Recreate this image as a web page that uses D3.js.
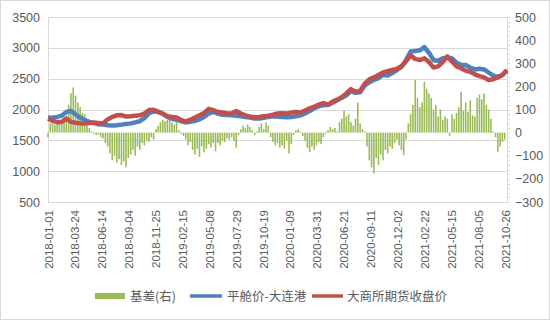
<!DOCTYPE html>
<html>
<head>
<meta charset="utf-8">
<script src="https://cdn.jsdelivr.net/npm/d3@7"></script>
<style>
  body { margin: 0; background: #fff; }
  svg { display: block; font-family: "Liberation Sans", Arial, sans-serif; }
</style>
</head>
<body>
<svg id="chart" width="550" height="320"></svg>
<script>
// x-axis tick labels (every 82 days)
const tickLabels = ["2018-01-01", "2018-03-24", "2018-06-14", "2018-09-04", "2018-11-25",
  "2019-02-15", "2019-05-08", "2019-07-29", "2019-10-19", "2020-01-09", "2020-03-31",
  "2020-06-21", "2020-09-11", "2020-12-02", "2021-02-22", "2021-05-15", "2021-08-05", "2021-10-26"];

const leftTicks = [500, 1000, 1500, 2000, 2500, 3000, 3500];
const rightTicks = [-300, -200, -100, 0, 100, 200, 300, 400, 500];

const seriesNames = ["基差(右)", "平舱价-大连港", "大商所期货收盘价"];

// line series, one value every 14 days starting 2018-01-01
const lineStart = "2018-01-01";
const lineStepDays = 14;
const spotPrice = [
  1870, 1865, 1880, 1900, 1960, 1975, 1920, 1870, 1830, 1800,
  1780, 1760, 1755, 1745, 1740, 1745, 1755, 1765, 1775, 1790,
  1810, 1860, 1940, 1970, 1960, 1930, 1880, 1850, 1835, 1810,
  1790, 1800, 1815, 1840, 1880, 1935, 1960, 1935, 1915, 1910,
  1905, 1900, 1890, 1880, 1870, 1855, 1855, 1865, 1880, 1890,
  1885, 1880, 1875, 1880, 1890, 1905, 1935, 1975, 2020, 2050,
  2070, 2075, 2110, 2150, 2190, 2230, 2300, 2270, 2280, 2390,
  2440, 2480, 2510, 2560, 2550, 2590, 2640, 2690, 2800, 2940,
  2950, 2960, 3010, 2920, 2800, 2790, 2830, 2840, 2830, 2760,
  2720, 2720, 2680, 2650, 2660, 2650, 2600, 2550, 2530, 2560,
  2630];
const futuresPrice = [
  1850, 1820, 1795, 1800, 1855, 1800, 1785, 1775, 1775, 1780,
  1790, 1780, 1775, 1840, 1880, 1905, 1910, 1885, 1890, 1900,
  1905, 1935, 1990, 1995, 1965, 1935, 1890, 1880, 1870, 1830,
  1805, 1835, 1870, 1905, 1945, 2010, 1990, 1960, 1950, 1940,
  1935, 1975, 1935, 1905, 1885, 1875, 1880, 1890, 1900, 1915,
  1935, 1940, 1935, 1950, 1960, 1950, 1985, 2020, 2045, 2080,
  2105, 2075, 2130, 2160, 2200, 2260, 2330, 2290, 2300, 2420,
  2490, 2520, 2560, 2600, 2620, 2640, 2660, 2700, 2780, 2880,
  2820, 2800, 2830, 2770, 2680, 2700, 2770, 2860, 2780, 2700,
  2670, 2630, 2610, 2570, 2540, 2520, 2480, 2490, 2520, 2560,
  2640];

// basis (right axis), one bar every 7 days starting 2018-01-01
const basisStepDays = 7;
const basis = [
  -20, 40, 45, 35, 50, 45, 40, 55, 70, 120,
  170, 195, 160, 130, 110, 85, 80, 40, 20, 5,
  -5, -10, -8, -20, -25, -45, -60, -90, -120, -100,
  -130, -115, -140, -125, -150, -110, -95, -75, -100, -60,
  -75, -45, -55, -35, -40, -20, -30, 15, 30, 45,
  55, 50, 55, 60, 45, 35, 50, 10, -5, -15,
  -30, -55, -40, -75, -95, -70, -105, -60, -85, -70,
  -50, -65, -45, -80, -45, -55, -35, -40, -25, -30,
  -20, -35, -65, -10, 15, 30, 20, 35, 25, 10,
  -10, 5, 25, 40, 15, 45, 30, -20, -40, -55,
  -45, -65, -55, -70, -35, -90, -50, -10, 10, 15,
  5, -15, -35, -65, -85, -60, -75, -55, -40, -50,
  -20, -5, 10, 25, 15, 20, 5, 45, 60, 95,
  70, 80, 45, 30, 60, 130, 40, 15, 5, -60,
  -120, -150, -177, -110, -140, -95, -120, -75, -90, -60,
  -70, -45, -30, -55, -75, -97, -30, 40, 80, 120,
  227, 150, 110, 130, 220, 190, 170, 150, 100, 120,
  70, 100, 55, 70, 60, -15, 80, 60, 85, 110,
  177, 95, 130, 90, 140, 75, 70, 150, 165, 145,
  170, 120, 100, 60, 5, -20, -83, -60, -40, -30];

const colors = { basis: "#9BBB59", spot: "#4F81BD", futures: "#C0504D" };

const svg = d3.select("#chart");
const width = 550, height = 320;
const margin = { top: 17, right: 43, bottom: 118, left: 48 };
const plotWidth = width - margin.left - margin.right;
const plotHeight = height - margin.top - margin.bottom;
const textColor = "#595959";
const gridColor = "#d9d9d9";

// chart border
svg.append("rect")
  .attr("x", 0.5).attr("y", 0.5)
  .attr("width", width - 1).attr("height", height - 1)
  .attr("fill", "none").attr("stroke", gridColor);

const parse = d3.timeParse("%Y-%m-%d");
const start = parse(lineStart);
const lineData = spotPrice.map((v, i) => ({
  date: d3.timeDay.offset(start, i * lineStepDays),
  spot: v,
  futures: futuresPrice[i]
}));
const basisData = basis.map((v, i) => ({
  date: d3.timeDay.offset(start, i * basisStepDays),
  value: v
}));

const x = d3.scaleTime()
  .domain([start, lineData[lineData.length - 1].date])
  .range([0, plotWidth]);
const yLeft = d3.scaleLinear().domain([500, 3500]).range([plotHeight, 0]);
const yRight = d3.scaleLinear().domain([-300, 500]).range([plotHeight, 0]);

const plotArea = svg.append("g")
  .attr("transform", `translate(${margin.left}, ${margin.top})`);

// gridlines
plotArea.append("g")
  .selectAll("line")
  .data(leftTicks)
  .join("line")
  .attr("x1", 0).attr("x2", plotWidth)
  .attr("y1", d => Math.round(yLeft(d)) + 0.5)
  .attr("y2", d => Math.round(yLeft(d)) + 0.5)
  .attr("stroke", gridColor);

// left axis
const axisLeft = plotArea.append("g")
  .call(d3.axisLeft(yLeft).tickValues(leftTicks).tickFormat(d3.format("d"))
    .tickSize(0).tickPadding(8));
axisLeft.select(".domain").attr("stroke", gridColor);
axisLeft.selectAll("text")
  .attr("fill", textColor).attr("font-size", 12.5);

// right axis with minor ticks
const axisRight = plotArea.append("g")
  .attr("transform", `translate(${plotWidth}, 0)`)
  .call(d3.axisRight(yRight).tickValues(rightTicks).tickFormat(d3.format("d"))
    .tickSize(0).tickPadding(8));
axisRight.select(".domain").attr("stroke", gridColor);
axisRight.selectAll("text")
  .attr("fill", textColor).attr("font-size", 12.5);
axisRight.append("g")
  .selectAll("line")
  .data(d3.range(-300, 501, 20))
  .join("line")
  .attr("x1", 0).attr("x2", 3)
  .attr("y1", d => Math.round(yRight(d)) + 0.5)
  .attr("y2", d => Math.round(yRight(d)) + 0.5)
  .attr("stroke", gridColor);

// bottom axis
const axisBottom = plotArea.append("g")
  .attr("transform", `translate(0, ${plotHeight})`)
  .call(d3.axisBottom(x)
    .tickValues(tickLabels.map(parse))
    .tickFormat(d3.timeFormat("%Y-%m-%d"))
    .tickSize(0));
axisBottom.select(".domain").attr("stroke", gridColor);
axisBottom.selectAll("text")
  .attr("transform", "rotate(-90)")
  .attr("text-anchor", "end")
  .attr("x", -8).attr("y", 0)
  .attr("dy", "0.35em")
  .attr("fill", textColor)
  .attr("font-size", 11.5);

// basis bars
plotArea.append("g")
  .selectAll("rect")
  .data(basisData)
  .join("rect")
  .attr("x", d => x(d.date) - 0.8)
  .attr("width", 1.6)
  .attr("y", d => yRight(Math.max(0, d.value)))
  .attr("height", d => Math.abs(yRight(d.value) - yRight(0)))
  .attr("fill", colors.basis);

// price lines
const spotLine = d3.line()
  .x(d => x(d.date))
  .y(d => yLeft(d.spot));
const futuresLine = d3.line()
  .x(d => x(d.date))
  .y(d => yLeft(d.futures));

plotArea.append("path")
  .datum(lineData)
  .attr("fill", "none")
  .attr("stroke", colors.spot)
  .attr("stroke-width", 4.5)
  .attr("stroke-linejoin", "round")
  .attr("d", spotLine);

plotArea.append("path")
  .datum(lineData)
  .attr("fill", "none")
  .attr("stroke", colors.futures)
  .attr("stroke-width", 4.5)
  .attr("stroke-linejoin", "round")
  .attr("d", futuresLine);

// legend
const legend = svg.append("g")
  .attr("font-family", "'Noto Sans CJK SC', sans-serif")
  .attr("font-size", 12.5)
  .attr("fill", textColor);

legend.append("rect")
  .attr("x", 95).attr("y", 293).attr("width", 30).attr("height", 6)
  .attr("fill", colors.basis);
legend.append("text").attr("x", 130).attr("y", 300.5).text(seriesNames[0]);

legend.append("line")
  .attr("x1", 190).attr("x2", 222).attr("y1", 296).attr("y2", 296)
  .attr("stroke", colors.spot).attr("stroke-width", 3.5);
legend.append("text").attr("x", 227).attr("y", 300.5).text(seriesNames[1]);

legend.append("line")
  .attr("x1", 312).attr("x2", 343).attr("y1", 296).attr("y2", 296)
  .attr("stroke", colors.futures).attr("stroke-width", 3.5);
legend.append("text").attr("x", 347).attr("y", 300.5).text(seriesNames[2]);
</script>
</body>
</html>
